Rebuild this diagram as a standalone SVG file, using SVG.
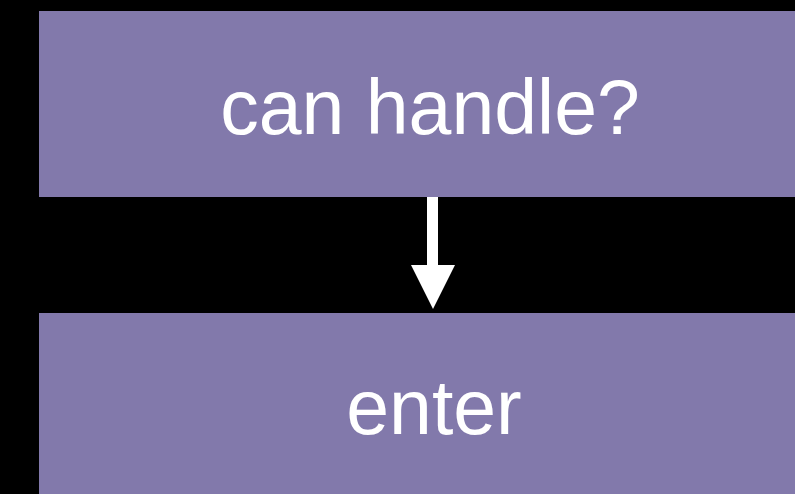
<svg xmlns="http://www.w3.org/2000/svg" width="795" height="494" viewBox="0 0 795 494">
<style>
.box{fill:#8279ab}
.lbl{fill:#ffffff;font-family:"Liberation Sans",Arial,sans-serif;font-size:77px;text-anchor:middle}
</style>
<rect x="0" y="0" width="795" height="494" fill="#000000"/>
<g id="node-can-handle">
<rect class="box" x="39" y="11" width="800" height="186"/>
<text class="lbl" x="430" y="134">can handle?</text>
</g>
<g id="node-enter">
<rect class="box" x="39" y="313" width="800" height="190"/>
<text class="lbl" x="434" y="434">enter</text>
</g>
<g id="connectors">
<rect x="427" y="197" width="11" height="69" fill="#ffffff"/>
<polygon points="411,265 455,265 433,309" fill="#ffffff"/>
</g>
</svg>
